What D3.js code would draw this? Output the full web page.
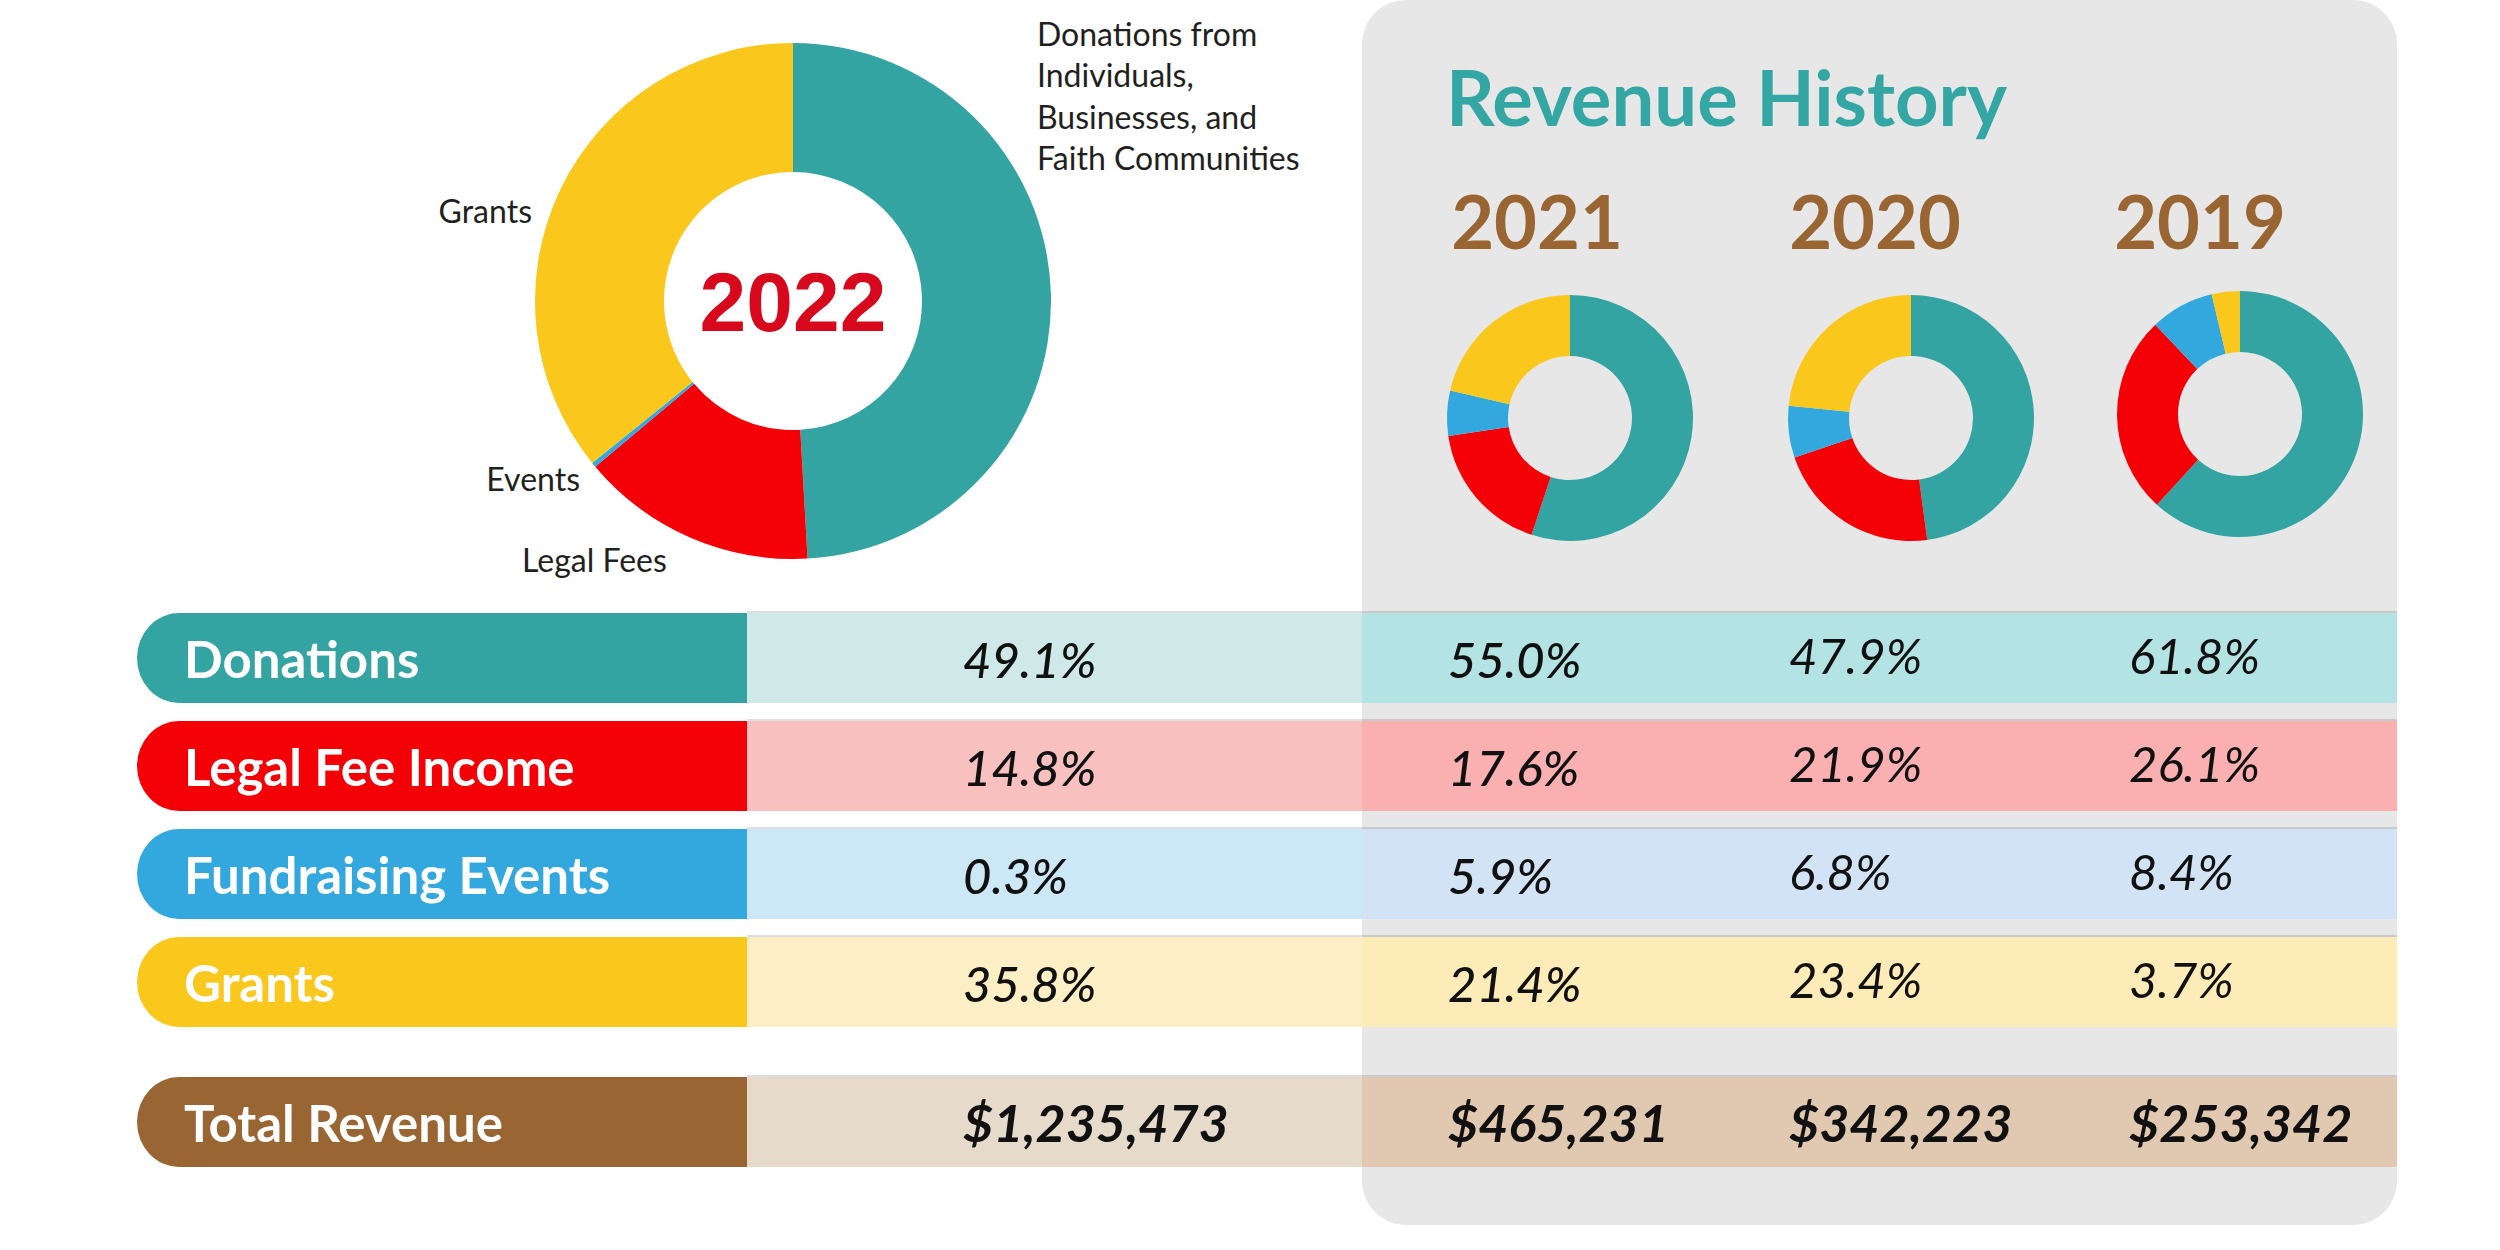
<!DOCTYPE html>
<html><head><meta charset="utf-8">
<script src="https://cdn.jsdelivr.net/npm/d3@7"></script>
<style>html,body{margin:0;padding:0;background:#fff;} svg{display:block}</style>
</head><body>
<script>
// ---------- data ----------
const years = ["2022", "2021", "2020", "2019"];
const categories = ["Donations", "Legal Fee Income", "Fundraising Events", "Grants"];
const donations = [49.1, 55.0, 47.9, 61.8];
const legalFees = [14.8, 17.6, 21.9, 26.1];
const fundraisingEvents = [0.3, 5.9, 6.8, 8.4];
const grants = [35.8, 21.4, 23.4, 3.7];
const totalRevenue = [1235473, 465231, 342223, 253342];
const donut2022Labels = [
  ["Donations from", "Individuals,", "Businesses, and", "Faith Communities"],
  ["Legal Fees"], ["Events"], ["Grants"]
];
const panelTitle = "Revenue History";
const totalLabel = "Total Revenue";

// ---------- styles ----------
const catColors = ["#34a4a3", "#f40007", "#33a8df", "#fac71c"];
const bandOut = ["#cfe8e8", "#f9c0c0", "#cce8f6", "#fdefc5"];
const bandIn  = ["#b3e3e2", "#faafb0", "#d1e3f4", "#fdebb8"];
const brown = "#996633", totalOut = "#e6dacb", totalIn = "#e1c8b1";
const teal = "#34a6a4";
const FONT = "Lato, 'Open Sans', sans-serif";

const W = 2500, H = 1250;
const svg = d3.select("body").append("svg").attr("width", W).attr("height", H);

const seriesByYear = years.map((y, i) => [donations[i], legalFees[i], fundraisingEvents[i], grants[i]]);

// panel
const panel = {x0: 1362, x1: 2397, y0: 0, y1: 1225};
svg.append("rect").attr("x", panel.x0).attr("y", panel.y0)
  .attr("width", panel.x1 - panel.x0).attr("height", panel.y1 - panel.y0)
  .attr("rx", 44).attr("ry", 44).attr("fill", "#e7e7e7");

// ---------- donuts ----------
const pie = d3.pie().sort(null).value(d => d);
function donut(g, values, rOut, rIn) {
  const arc = d3.arc().innerRadius(rIn).outerRadius(rOut);
  g.selectAll("path").data(pie(values)).join("path")
    .attr("d", arc).attr("fill", (d, i) => catColors[i]);
  return arc;
}

// main 2022 donut
const main = svg.append("g").attr("transform", "translate(793,301)");
donut(main, seriesByYear[0], 258, 129);
main.append("text").attr("x", 0).attr("y", 30).attr("text-anchor", "middle")
  .attr("font-family", "'Liberation Sans', Arial, sans-serif").attr("font-weight", 700)
  .attr("font-size", 84).attr("fill", "#d7081b").text(years[0]);

// labels of main donut
const lblStyle = s => s.attr("font-family", FONT).attr("font-size", 32).attr("fill", "#231f20");
const l0 = svg.append("text").attr("x", 1037).attr("y", 46).call(lblStyle);
donut2022Labels[0].forEach((t, i) => l0.append("tspan").attr("x", 1037).attr("dy", i ? 41.3 : 0).text(t));
svg.append("text").attr("x", 522).attr("y", 572).call(lblStyle).text(donut2022Labels[1][0]);
svg.append("text").attr("x", 580).attr("y", 491).attr("text-anchor", "end").call(lblStyle).text(donut2022Labels[2][0]);
svg.append("text").attr("x", 532).attr("y", 223).attr("text-anchor", "end").call(lblStyle).text(donut2022Labels[3][0]);

// panel title
svg.append("text").attr("x", 1446).attr("y", 126).attr("font-family", FONT).attr("font-weight", 700)
  .attr("font-size", 76).attr("fill", teal).text(panelTitle);

// history donuts
const histCenters = [[1570, 418], [1911, 418], [2240, 414]];
const yearX = [1537, 1875, 2200];
years.slice(1).forEach((yr, k) => {
  const g = svg.append("g").attr("transform", `translate(${histCenters[k][0]},${histCenters[k][1]})`);
  donut(g, seriesByYear[k + 1], 123, 62);
  svg.append("text").attr("x", yearX[k]).attr("y", 249).attr("text-anchor", "middle")
    .attr("font-family", FONT).attr("font-weight", 700).attr("font-size", 74)
    .attr("fill", brown).text(yr);
});

// ---------- table ----------
const yRow = d3.scaleBand().domain(categories).range([613, 1027]).paddingInner(18 / 108).paddingOuter(0);
const rowH = yRow.bandwidth();
const colX = d3.scaleOrdinal().domain(years).range([963, 1448, 1789, 2129]);
const colDy = d3.scaleOrdinal().domain(years).range([0, 0, -4, -4]);
const colW = d3.scaleOrdinal().domain(years).range([500, 500, 400, 400]);
const pillX0 = 137, pillX1 = 747;

function pillPath(x0, x1, top, h) {
  const rx = 42, ry = h / 2;
  return `M${x1},${top} H${x0 + rx} A${rx},${ry} 0 0 0 ${x0 + rx},${top + h} H${x1} Z`;
}

function drawRow(top, h, label, color, bo, bi, values, fmt, isTotal) {
  const g = svg.append("g");
  g.append("rect").attr("x", pillX1).attr("y", top).attr("width", panel.x0 - pillX1).attr("height", h).attr("fill", bo);
  g.append("rect").attr("x", panel.x0).attr("y", top).attr("width", panel.x1 - panel.x0).attr("height", h).attr("fill", bi);
  g.append("line").attr("x1", pillX1).attr("x2", panel.x1).attr("y1", top - 1).attr("y2", top - 1)
    .attr("stroke", "rgba(0,0,0,0.13)").attr("stroke-width", 2);
  g.append("path").attr("d", pillPath(pillX0, pillX1, top, h)).attr("fill", color);
  g.append("text").attr("x", 184).attr("y", top + 65).attr("font-family", FONT).attr("font-weight", 700)
    .attr("font-size", 51).attr("fill", "#fff").text(label);
  g.selectAll("text.val").data(values).join("text").attr("class", "val")
    .attr("x", (d, i) => colX(years[i]))
    .attr("y", (d, i) => top + 65 + (isTotal ? 0 : colDy(years[i])))
    .attr("font-family", FONT).attr("font-style", "italic")
    .attr("font-weight", (d, i) => isTotal ? 700 : colW(years[i]))
    .attr("font-size", isTotal ? 52 : 49).attr("fill", "#111").text(fmt);
}

categories.forEach((c, ci) => {
  const vals = years.map((y, yi) => seriesByYear[yi][ci]);
  drawRow(yRow(c), rowH, c, catColors[ci], bandOut[ci], bandIn[ci], vals, d => d3.format(".1f")(d) + "%", false);
});
drawRow(1077, rowH, totalLabel, brown, totalOut, totalIn, totalRevenue, d => "$" + d3.format(",")(d), true);
</script>
</body></html>
